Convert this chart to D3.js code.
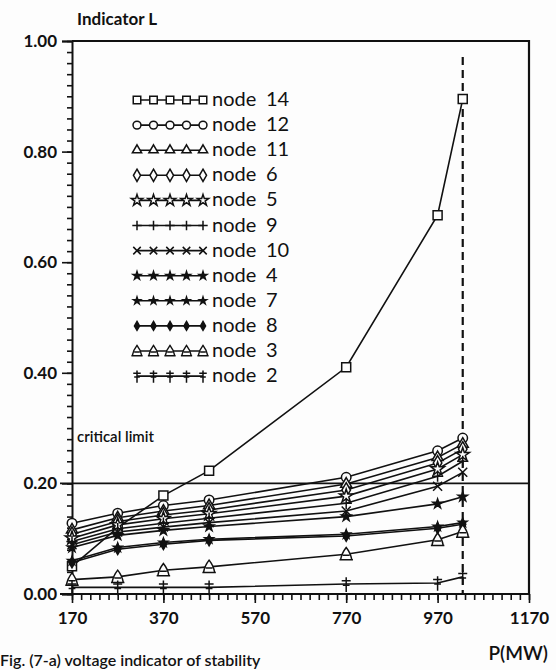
<!DOCTYPE html>
<html><head><meta charset="utf-8">
<script src="https://cdn.jsdelivr.net/npm/d3@7"></script>
<style>body{margin:0;background:#fdfdfd;} svg{display:block;}</style>
</head><body>
<script>
// ---- data ----
const powerMW = [170, 270, 370, 470, 770, 970, 1025];
const node14 = [0.050, 0.120, 0.178, 0.223, 0.410, 0.685, 0.895];
const node12 = [0.128, 0.146, 0.160, 0.170, 0.211, 0.259, 0.282];
const node11 = [0.116, 0.138, 0.150, 0.160, 0.199, 0.247, 0.271];
const node6  = [0.108, 0.131, 0.143, 0.152, 0.188, 0.237, 0.262];
const node5  = [0.101, 0.125, 0.136, 0.145, 0.177, 0.226, 0.252];
const node9  = [0.095, 0.118, 0.128, 0.137, 0.164, 0.213, 0.240];
const node10 = [0.089, 0.112, 0.121, 0.129, 0.150, 0.195, 0.220];
const node4  = [0.084, 0.106, 0.115, 0.122, 0.140, 0.163, 0.176];
const node7  = [0.060, 0.084, 0.093, 0.099, 0.108, 0.122, 0.129];
const node8  = [0.057, 0.081, 0.090, 0.097, 0.105, 0.119, 0.126];
const node3  = [0.026, 0.031, 0.043, 0.049, 0.072, 0.098, 0.113];
const node2  = [0.012, 0.012, 0.012, 0.012, 0.018, 0.020, 0.031];
const seriesNames = ["node 14","node 12","node 11","node 6","node 5","node 9","node 10","node 4","node 7","node 8","node 3","node 2"];
const seriesValues = [node14,node12,node11,node6,node5,node9,node10,node4,node7,node8,node3,node2];
const seriesMarkers = ["square","circle","triangle","diamond","star","plus","cross","fstar","fstar2","fdiamond","bell","tee"];
const xTickValues = [170, 370, 570, 770, 970, 1170];
const yTickValues = [0, 0.2, 0.4, 0.6, 0.8, 1.0];
const criticalLimit = 0.2;
const limitPower = 1025;

// ---- chart ----
const W = 556, H = 670;
const svg = d3.select("body").append("svg").attr("width", W).attr("height", H)
  .style("font-family", "Lato, 'Open Sans', sans-serif");
svg.append("rect").attr("width", W).attr("height", H).attr("fill", "#fdfdfd");

const x = d3.scaleLinear().domain([170, 1170]).range([72, 529]);
const y = d3.scaleLinear().domain([0, 1]).range([594, 41]);

// frame (top & right)
svg.append("path").attr("d", `M${x(170)},${y(1)}H${x(1170)}V${y(0)}`)
  .attr("fill","none").attr("stroke","#111").attr("stroke-width",2.2);

// minor ticks
const yMinor = d3.range(0, 1.0001, 0.02);
svg.append("g").attr("transform", `translate(${x(170)},0)`)
  .call(d3.axisLeft(y).tickValues(yMinor).tickSize(5).tickFormat(""))
  .call(g => g.select(".domain").remove());
const xMinor = d3.range(170, 1170.01, 20);
svg.append("g").attr("transform", `translate(0,${y(0)})`)
  .call(d3.axisBottom(x).tickValues(xMinor).tickSize(6).tickFormat(""))
  .call(g => g.select(".domain").remove());

// major axes
const yAxis = svg.append("g").attr("transform", `translate(${x(170)},0)`)
  .call(d3.axisLeft(y).tickValues(yTickValues).tickSize(10).tickPadding(5).tickFormat(d3.format(".2f")));
const xAxis = svg.append("g").attr("transform", `translate(0,${y(0)})`)
  .call(d3.axisBottom(x).tickValues(xTickValues).tickSize(9).tickPadding(9).tickFormat(d3.format("d")));
[yAxis, xAxis].forEach(a => {
  a.selectAll("line,path").attr("stroke", "#111").attr("stroke-width", 2);
  a.selectAll("text").attr("fill","#111").style("font-size","17px").style("font-weight","700")
    .style("font-family","Lato, sans-serif");
});
svg.selectAll(".tick line").attr("stroke","#111").attr("stroke-width",1.6);
xAxis.select(".domain").attr("d", `M${x(170)-12},0H${x(1170)}`);

// critical limit line
svg.append("line").attr("x1", x(170)-12).attr("x2", x(1170))
  .attr("y1", y(criticalLimit)).attr("y2", y(criticalLimit))
  .attr("stroke","#111").attr("stroke-width",1.6);
svg.append("text").attr("x", 77).attr("y", 442).text("critical limit")
  .style("font-size","15px").style("font-weight","600").attr("fill","#111");

// dashed vertical at limit power
svg.append("line").attr("x1", x(limitPower)).attr("x2", x(limitPower))
  .attr("y1", 57).attr("y2", y(0))
  .attr("stroke","#111").attr("stroke-width",2.2).attr("stroke-dasharray","8,5");

// titles
svg.append("text").attr("x", 77).attr("y", 25).text("Indicator L")
  .style("font-size","17px").style("font-weight","700").attr("fill","#111");
svg.append("text").attr("x", 548).attr("y", 660).attr("text-anchor","end").text("P(MW)")
  .style("font-size","19px").style("font-weight","600").attr("fill","#111");
svg.append("text").attr("x", 0).attr("y", 666).text("Fig. (7-a) voltage indicator of stability")
  .style("font-size","16px").style("font-weight","600").attr("fill","#111");

// marker factory
function markerPath(type, s) {
  const k = s / 8;
  switch (type) {
    case "square": return d3.symbol(d3.symbolSquare, 64*k*k)();
    case "circle": return d3.symbol(d3.symbolCircle, 56*k*k)();
    case "triangle": return d3.symbol(d3.symbolTriangle, 42*k*k)();
    case "diamond": return d3.symbol(d3.symbolDiamond, 50*k*k)();
    case "star": return d3.symbol(d3.symbolStar, 45*k*k)();
    case "fstar": return d3.symbol(d3.symbolStar, 22*k*k)();
    case "fstar2": return d3.symbol(d3.symbolStar, 18*k*k)();
    case "fdiamond": return d3.symbol(d3.symbolDiamond, 26*k*k)();
    case "plus": return `M${-5*k},0H${5*k}M0,${-5*k}V${5*k}`;
    case "cross": return `M${-4*k},${-4*k}L${4*k},${4*k}M${-4*k},${4*k}L${4*k},${-4*k}`;
    case "bell": return `M${-6*k},${5*k}H${6*k}M${-5*k},${5*k}Q${-4*k},${-1*k} 0,${-6*k}Q${4*k},${-1*k} ${5*k},${5*k}M${-3*k},${1*k}H${3*k}`;
    case "tee": return `M0,${-6*k}V${7*k}M${-4*k},${-3*k}H${4*k}M${-3*k},${1*k}H${3*k}`;
  }
}
const filled = new Set(["fstar","fstar2","fdiamond"]);
const openFill = new Set(["square","circle","triangle","diamond","star","bell"]);
function styleMarker(sel, type) {
  sel.attr("stroke","#111").attr("stroke-width",1.5)
    .attr("fill", filled.has(type) ? "#111" : (openFill.has(type) ? "#fdfdfd" : "none"));
}

// series lines and markers
const line = d3.line().x(d => x(d[0])).y(d => y(d[1]));
seriesValues.forEach((vals, i) => {
  const pts = powerMW.map((p, j) => [p, vals[j]]);
  svg.append("path").attr("d", line(pts)).attr("fill","none")
    .attr("stroke","#111").attr("stroke-width",1.6);
});
seriesValues.forEach((vals, i) => {
  const type = seriesMarkers[i];
  const pts = powerMW.map((p, j) => [p, vals[j]]);
  svg.append("g").selectAll("path").data(pts).join("path")
    .attr("transform", d => `translate(${x(d[0])},${y(d[1])})`)
    .attr("d", markerPath(type, 9))
    .call(styleMarker, type);
});

// legend
const legend = svg.append("g");
seriesNames.forEach((name, i) => {
  const cy = 100 + i * 25.1;
  const type = seriesMarkers[i];
  const g = legend.append("g");
  g.append("line").attr("x1",137).attr("x2",203).attr("y1",cy).attr("y2",cy)
    .attr("stroke","#111").attr("stroke-width",1.6);
  d3.range(5).forEach(k => {
    g.append("path").attr("transform", `translate(${137 + k*16.5},${cy})`)
      .attr("d", markerPath(type, 7.5)).call(styleMarker, type);
  });
  const parts = name.split(" ");
  g.append("text").attr("x", 212).attr("y", cy + 6).text(parts[0])
    .style("font-size","20px").attr("fill","#111");
  g.append("text").attr("x", 266).attr("y", cy + 6).text(parts[1])
    .style("font-size","20px").attr("fill","#111");
});
</script>
</body></html>
